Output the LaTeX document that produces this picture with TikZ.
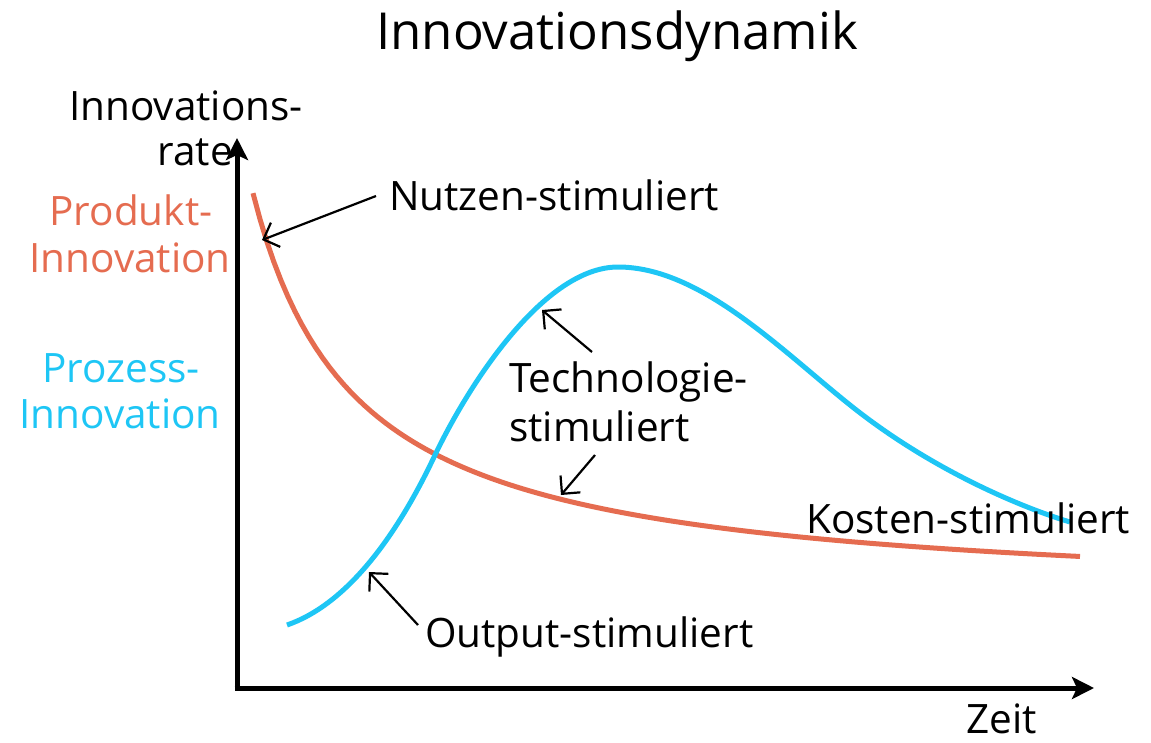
\documentclass[tikz,border=0pt]{standalone}
\usepackage{fontspec}
\setmainfont{Open Sans}
\usetikzlibrary{arrows.meta}
\definecolor{orng}{RGB}{229,108,80}
\definecolor{cyn}{RGB}{30,198,245}
\tikzset{
  lbl/.style={inner sep=0pt, font=\fontsize{40.5}{49}\selectfont, text=black},
  axis/.style={line width=5pt, -{Stealth[length=22pt,width=22pt,inset=5pt]}},
  curve/.style={line width=5pt},
  pointer/.style={line width=2.2pt, -{Straight Barb[length=13pt,width=26pt,line width=2.2pt]}},
}
\begin{document}
\begin{tikzpicture}[x=1pt,y=-1pt]
\useasboundingbox (0,0) rectangle (1151,742);
% title
\node[lbl, font=\fontsize{51}{60}\selectfont, anchor=base] (title) at (617,49) {Innovationsdynamik};
% axes
\coordinate (ybot) at (237,690.5);
\coordinate (ytip) at (237,138);
\coordinate (xleft) at (234.5,688);
\coordinate (xtip) at (1094,688);
\draw[axis] (ybot) -- (ytip);
\draw[axis] (xleft) -- (xtip);
% axis labels
\node[lbl, anchor=base west] (ylab1) at (69,120) {Innovations-};
\node[lbl, anchor=base east] (ylab2) at (233,165) {rate};
\node[lbl, anchor=base east] (xlab) at (1037,733) {Zeit};
% legend
\node[lbl, text=orng, anchor=base] (prod1) at (131,225) {Produkt-};
\node[lbl, text=orng, anchor=base] (prod2) at (130,272) {Innovation};
\node[lbl, text=cyn, anchor=base] (proz1) at (121,382) {Prozess-};
\node[lbl, text=cyn, anchor=base] (proz2) at (120,428) {Innovation};
% curves
\draw[curve, orng] plot[domain=253:1080, samples=120] (\x, {601.7-420.8/((\x-150)/100)});
\draw[curve, cyn] (287,625) .. controls (345,605) and (395,540) .. (435,455)
  .. controls (470,382) and (545,267) .. (618,267)
  .. controls (700,267) and (780,349) .. (850,405)
  .. controls (930,469) and (1020,507) .. (1070,522);
% labels
\node[lbl, anchor=base west] (nutzen) at (389,210) {Nutzen-stimuliert};
\node[lbl, anchor=base west] (tech1) at (509,392) {Technologie-};
\node[lbl, anchor=base west] (tech2) at (509,441) {stimuliert};
\node[lbl, anchor=base west] (kosten) at (806,533) {Kosten-stimuliert};
\node[lbl, anchor=base west] (output) at (425,647) {Output-stimuliert};
% pointers
\coordinate (n1) at (376,196);
\coordinate (n2) at (262,240);
\coordinate (t1) at (592,352);
\coordinate (t2) at (542,310);
\coordinate (t3) at (595,455);
\coordinate (t4) at (561,495);
\coordinate (o1) at (418,625);
\coordinate (o2) at (369,572);
\draw[pointer] (n1) -- (n2);
\draw[pointer] (t1) -- (t2);
\draw[pointer] (t3) -- (t4);
\draw[pointer] (o1) -- (o2);
\end{tikzpicture}
\end{document}
